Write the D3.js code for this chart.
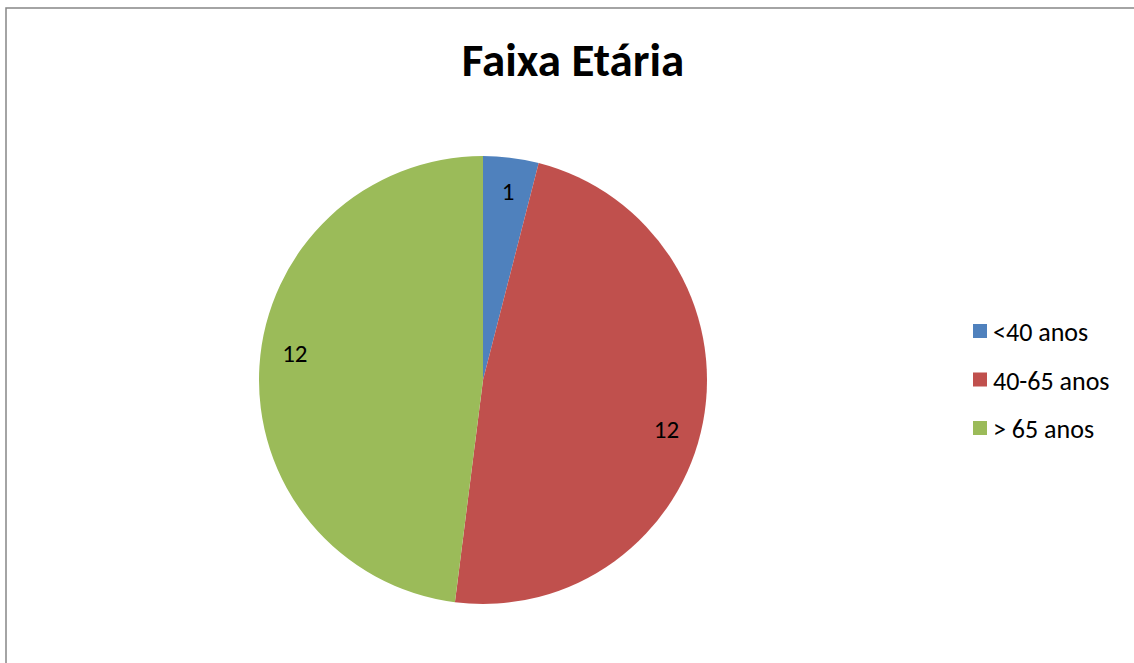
<!DOCTYPE html>
<html>
<head>
<meta charset="utf-8">
<script src="https://cdn.jsdelivr.net/npm/d3@7"></script>
<style>
  html, body { margin: 0; padding: 0; background: #fff; }
  svg { display: block; font-family: Calibri, Carlito, "Open Sans", "Noto Sans", sans-serif; }
</style>
</head>
<body>
<svg id="chart" width="1134" height="663"></svg>
<script>
  // dados do gráfico
  const categories = ["<40 anos", "40-65 anos", "> 65 anos"];
  const values = [1, 12, 12];
  const colors = ["#4f81bd", "#c0504d", "#9bbb59"];

  const W = 1134, H = 663;
  const svg = d3.select("#chart");

  // moldura (só esquerda e topo aparecem no recorte)
  svg.append("rect")
    .attr("x", 6).attr("y", 8).attr("width", W + 20).attr("height", H + 20)
    .attr("fill", "#fff").attr("stroke", "#868686").attr("stroke-width", 1.5);

  svg.append("text")
    .attr("x", 573).attr("y", 76)
    .attr("text-anchor", "middle")
    .attr("font-weight", "bold").attr("font-size", 47)
    .text("Faixa Etária");

  // pizza
  const cx = 483, cy = 380, R = 224;
  const pie = d3.pie().sort(null).value((d) => d)(values);
  const arc = d3.arc().innerRadius(0).outerRadius(R);
  const rl = 190;
  // posição do rótulo: um pouco além do meio da fatia (como o Excel)
  const labelPos = (d) => {
    const a = d.startAngle + (d.endAngle - d.startAngle) * 0.525;
    return [rl * Math.sin(a), -rl * Math.cos(a)];
  };

  const g = svg.append("g").attr("transform", `translate(${cx},${cy})`);
  g.selectAll("path").data(pie).enter().append("path")
    .attr("d", arc)
    .attr("fill", (d, i) => colors[i]);

  g.selectAll("text.lbl").data(pie).enter().append("text")
    .attr("class", "lbl")
    .attr("transform", (d) => `translate(${labelPos(d)})`)
    .attr("text-anchor", "middle").attr("dominant-baseline", "central")
    .attr("font-size", 25).attr("fill", "#000")
    .text((d) => d.data);

  // legenda
  const leg = svg.append("g").attr("transform", "translate(973,331)");
  const row = leg.selectAll("g").data(categories).enter().append("g")
    .attr("transform", (d, i) => `translate(0,${i * 48.5})`);
  row.append("rect").attr("x", 0).attr("y", -7).attr("width", 14).attr("height", 14)
    .attr("fill", (d, i) => colors[i]);
  row.append("text").attr("x", 20).attr("y", 1)
    .attr("dominant-baseline", "central").attr("font-size", 26)
    .text((d) => d);
</script>
</body>
</html>
